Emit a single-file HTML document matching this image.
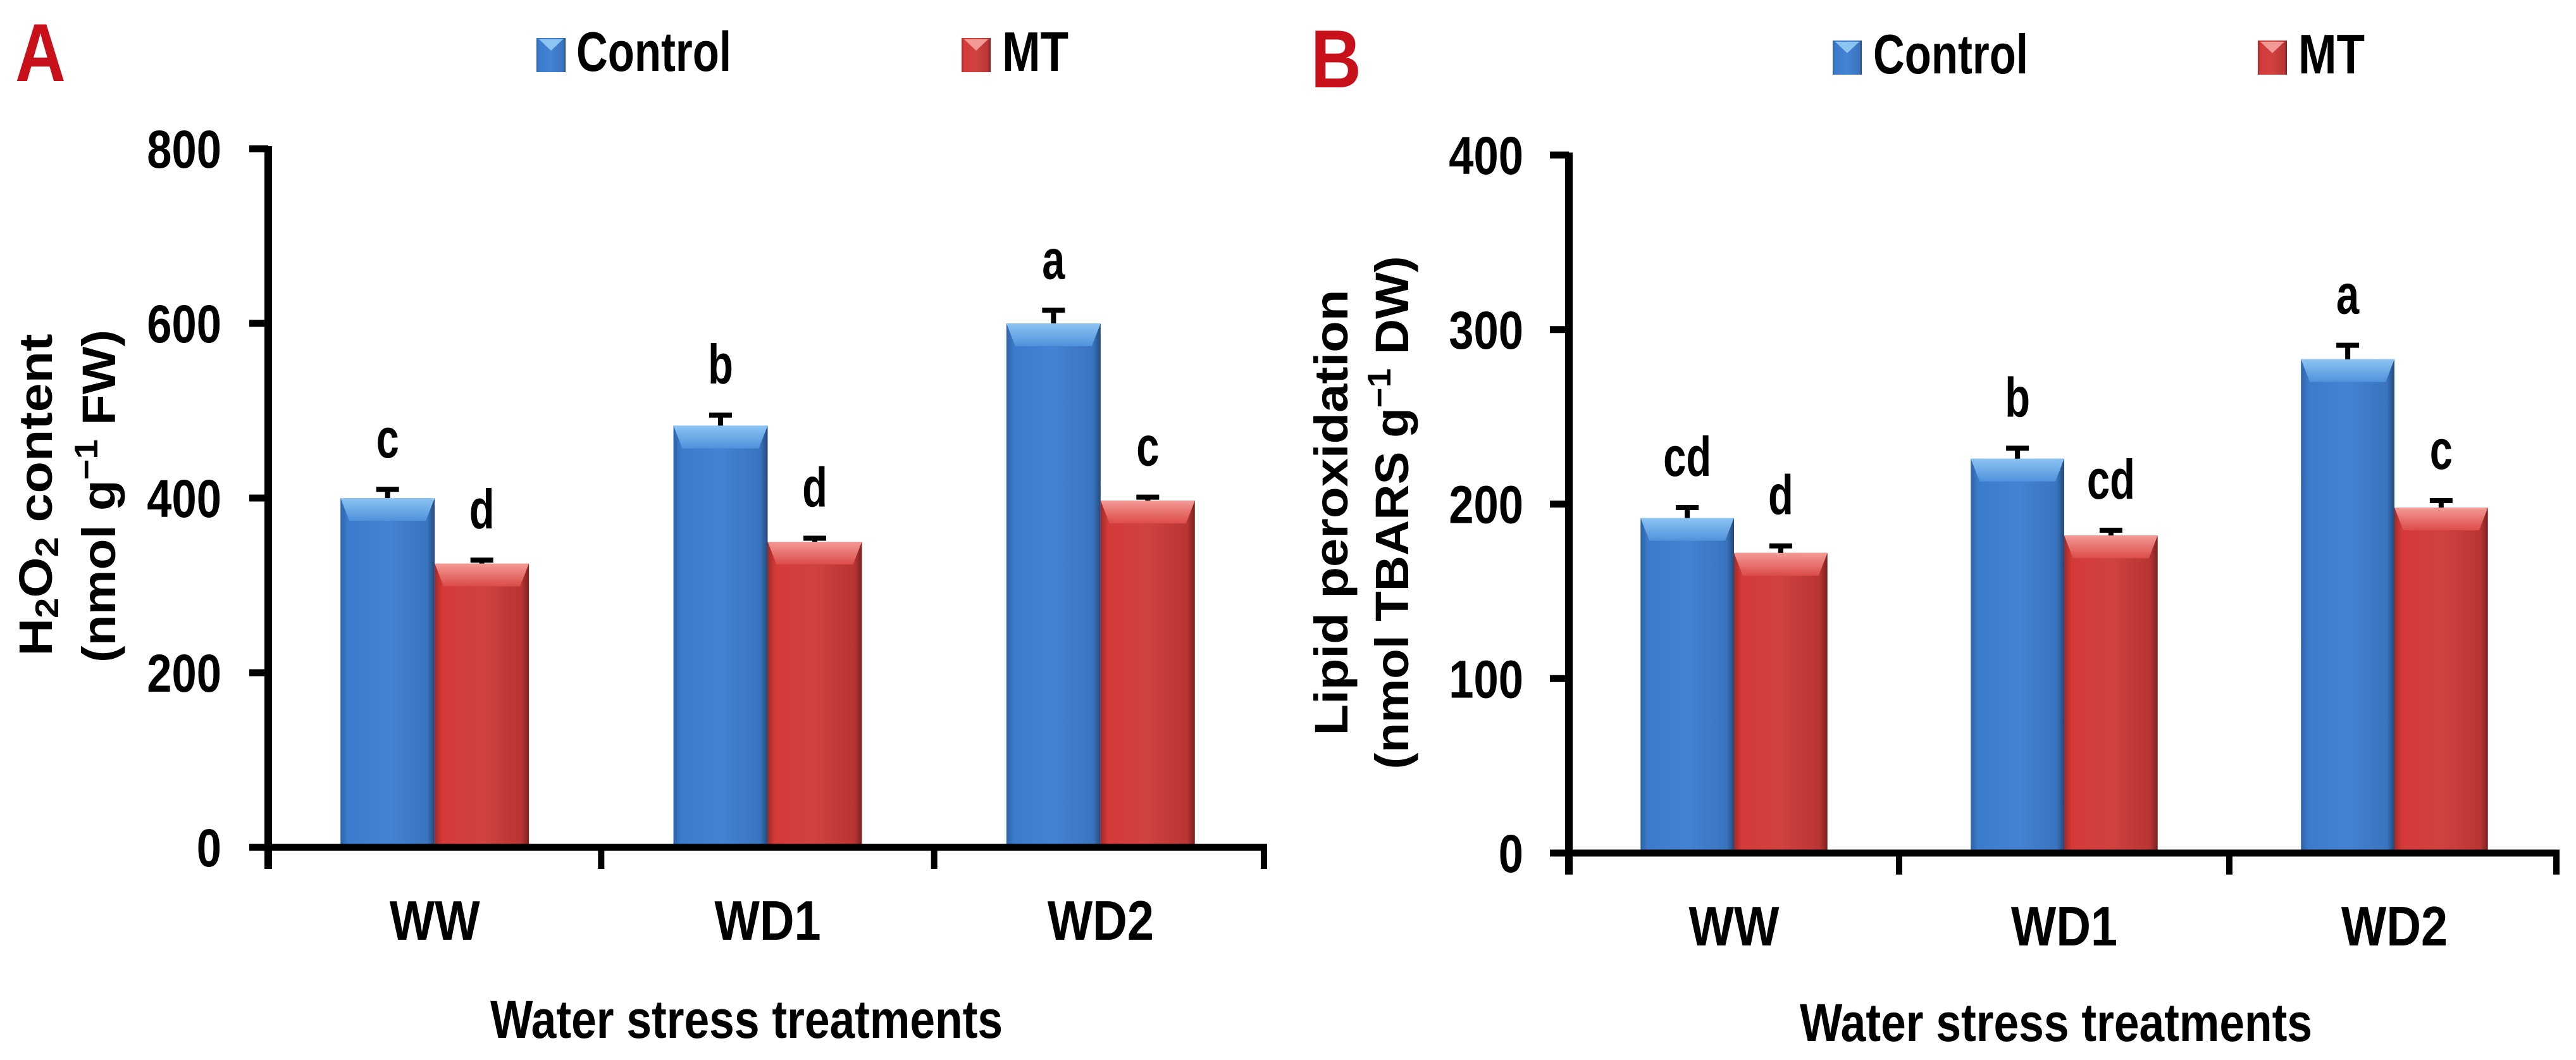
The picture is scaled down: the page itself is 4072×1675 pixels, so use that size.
<!DOCTYPE html>
<html><head><meta charset="utf-8">
<style>
html,body{margin:0;padding:0;background:#fff;}
svg{display:block;}
.tick{font-family:"Liberation Sans Narrow","Liberation Sans",sans-serif;font-weight:bold;font-size:84px;fill:#000;}
.cat{font-family:"Liberation Sans Narrow","Liberation Sans",sans-serif;font-weight:bold;font-size:88px;fill:#000;}
.xt{font-family:"Liberation Sans Narrow","Liberation Sans",sans-serif;font-weight:bold;font-size:84px;fill:#000;}
.ytitle{font-family:"Liberation Sans",sans-serif;font-weight:bold;font-size:74px;fill:#000;}
.lbl{font-family:"Liberation Sans Narrow","Liberation Sans",sans-serif;font-weight:bold;font-size:88px;fill:#000;}
.panel{font-family:"Liberation Sans",sans-serif;font-weight:bold;font-size:130px;fill:#c8101a;}
</style></head>
<body>
<svg id="fig" width="4072" height="1675" viewBox="0 0 4072 1675" xmlns="http://www.w3.org/2000/svg">
<defs>
<linearGradient id="gBlue" x1="0" x2="1" y1="0" y2="0">
<stop offset="0" stop-color="#2f63a8"/><stop offset="0.08" stop-color="#3c7bcb"/><stop offset="0.5" stop-color="#4283d3"/><stop offset="0.92" stop-color="#3a74bf"/><stop offset="1" stop-color="#24497a"/>
</linearGradient>
<linearGradient id="gRed" x1="0" x2="1" y1="0" y2="0">
<stop offset="0" stop-color="#9e2a28"/><stop offset="0.08" stop-color="#d43a38"/><stop offset="0.5" stop-color="#d04240"/><stop offset="0.92" stop-color="#b83533"/><stop offset="1" stop-color="#7a2220"/>
</linearGradient>
<linearGradient id="gBlueTop" x1="0" x2="0" y1="0" y2="1"><stop offset="0" stop-color="#8cc4f2"/><stop offset="1" stop-color="#4f92dc"/></linearGradient>
<linearGradient id="gRedTop" x1="0" x2="0" y1="0" y2="1"><stop offset="0" stop-color="#f39a96"/><stop offset="1" stop-color="#dc4c48"/></linearGradient>
</defs>
<g id="root"></g>
</svg>
<script>
const categories = ["WW", "WD1", "WD2"];
const seriesNames = ["Control", "MT"];
const h2o2Control = [400, 483, 600];
const h2o2MT = [325, 350, 397];
const h2o2ControlErr = [10, 12, 15];
const h2o2MTErr = [4, 4, 4];
const h2o2ControlLetters = ["c", "b", "a"];
const h2o2MTLetters = ["d", "d", "c"];
const h2o2Ticks = [0, 200, 400, 600, 800];
const lipidControl = [192, 226, 283];
const lipidMT = [172, 182, 198];
const lipidControlErr = [6, 6, 8];
const lipidMTErr = [4, 3, 4];
const lipidControlLetters = ["cd", "b", "a"];
const lipidMTLetters = ["d", "cd", "c"];
const lipidTicks = [0, 100, 200, 300, 400];

const NS = "http://www.w3.org/2000/svg";
const root = document.getElementById("root");
function mk(tag, attrs, parent, text) {
  const e = document.createElementNS(NS, tag);
  for (const k in attrs) e.setAttribute(k, attrs[k]);
  if (text !== undefined) e.textContent = text;
  (parent || root).appendChild(e);
  return e;
}

function drawPanel(cfg) {
  const g = mk("g", {});
  
  
  const yMax = cfg.ticks[cfg.ticks.length - 1];
  const y = v => cfg.y0 - (v / yMax) * (cfg.y0 - cfg.yTop);
  const gw = (cfg.xEnd - cfg.x0) / categories.length;
  const bw = gw * 0.283;
  const series = [cfg.control, cfg.mt];
  const errs = [cfg.controlErr, cfg.mtErr];
  const letters = [cfg.controlLetters, cfg.mtLetters];
  categories.forEach((c, i) => {
    const cx = cfg.x0 + gw * (i + 0.5);
    series.forEach((s, j) => {
      const bx = cx - bw + j * bw;
      const top = y(s[i]);
      const h = cfg.y0 - top;
      const bar = mk("rect", {x: bx, y: top, width: bw, height: h, fill: j === 0 ? "url(#gBlue)" : "url(#gRed)"}, g);
      
      
      const bev = Math.min(36, h);
      const tp = mk("polygon", {points: `${bx},${top} ${bx+bw},${top} ${bx+bw-14},${top+bev} ${bx+14},${top+bev}`, fill: j === 0 ? "url(#gBlueTop)" : "url(#gRedTop)"}, g);
      
      
      const bcx = bx + bw / 2;
      const et = y(s[i] + errs[j][i]);
      const eb = mk("path", {d: `M${bcx},${top} L${bcx},${et} M${bcx-18},${et} L${bcx+18},${et}`, stroke: "#000", "stroke-width": 8, fill: "none"}, g);
      
      
      const lt = mk("text", {x: bcx, y: et - 50, "text-anchor": "middle", class: "lbl", "data-cond": "0.74"}, g, letters[j][i]);
      
      
    });
    const cl = mk("text", {x: cx, y: cfg.y0 + 146, "text-anchor": "middle", class: "cat", "data-cond": "0.86"}, g, c);
    
    
  });
  const ya = mk("line", {x1: cfg.x0, y1: cfg.yTop - 4, x2: cfg.x0, y2: cfg.y0 + 34, stroke: "#000", "stroke-width": 12}, g);
  
  
  const xa = mk("line", {x1: cfg.x0 - 30, y1: cfg.y0, x2: cfg.xEnd, y2: cfg.y0, stroke: "#000", "stroke-width": 11}, g);
  
  
  for (let k = 1; k <= categories.length; k++) {
    const tx = cfg.x0 + gw * k - (k === categories.length ? 5 : 0);
    const t = mk("line", {x1: tx, y1: cfg.y0, x2: tx, y2: cfg.y0 + 34, stroke: "#000", "stroke-width": 10}, g);
    
    
  }
  cfg.ticks.forEach(v => {
    const t = mk("line", {x1: cfg.x0 - 30, y1: y(v), x2: cfg.x0, y2: y(v), stroke: "#000", "stroke-width": 11}, g);
    
    
    const tl = mk("text", {x: cfg.tickRight, y: y(v) + 30, "text-anchor": "end", class: "tick", "data-cond": "0.84"}, g, String(v));
    
    
  });
}

drawPanel({name: "panel-a-h2o2", x0: 424, xEnd: 2003, yTop: 235, y0: 1339, ticks: h2o2Ticks, tickRight: 350,
  control: h2o2Control, mt: h2o2MT, controlErr: h2o2ControlErr, mtErr: h2o2MTErr,
  controlLetters: h2o2ControlLetters, mtLetters: h2o2MTLetters});
drawPanel({name: "panel-b-lipid", x0: 2480, xEnd: 4046, yTop: 245, y0: 1348, ticks: lipidTicks, tickRight: 2408,
  control: lipidControl, mt: lipidMT, controlErr: lipidControlErr, mtErr: lipidMTErr,
  controlLetters: lipidControlLetters, mtLetters: lipidMTLetters});
</script>
<script>
(function(){
const r = document.getElementById("root");
const NS = "http://www.w3.org/2000/svg";
const html = `
<text class="panel" x="24" y="128" data-cond="0.85">A</text>
<text class="panel" x="2072" y="138" data-cond="0.85">B</text>
<g>
 <rect x="848" y="60" width="46" height="54" fill="url(#gBlue)"/>
 <polygon points="852,62 890,62 871,80" fill="#8cc4f2"/>
 <text class="lbl" x="911" y="112" textLength="245" lengthAdjust="spacingAndGlyphs">Control</text>
 <rect x="1520" y="60" width="46" height="54" fill="url(#gRed)"/>
 <polygon points="1524,62 1562,62 1543,80" fill="#f39a96"/>
 <text class="lbl" x="1584" y="112" textLength="105" lengthAdjust="spacingAndGlyphs">MT</text>
</g>
<g>
 <rect x="2897" y="64" width="46" height="54" fill="url(#gBlue)"/>
 <polygon points="2901,66 2939,66 2920,84" fill="#8cc4f2"/>
 <text class="lbl" x="2961" y="116" textLength="245" lengthAdjust="spacingAndGlyphs">Control</text>
 <rect x="3569" y="64" width="46" height="54" fill="url(#gRed)"/>
 <polygon points="3573,66 3611,66 3592,84" fill="#f39a96"/>
 <text class="lbl" x="3633" y="116" textLength="105" lengthAdjust="spacingAndGlyphs">MT</text>
</g>
<text class="ytitle" transform="translate(82,782) rotate(-90)" text-anchor="middle" textLength="509" lengthAdjust="spacingAndGlyphs">H<tspan font-size="52" dy="10">2</tspan><tspan dy="-10">O</tspan><tspan font-size="52" dy="10">2</tspan><tspan dy="-10"> content</tspan></text>
<text class="ytitle" transform="translate(182,784) rotate(-90)" text-anchor="middle" textLength="526" lengthAdjust="spacingAndGlyphs">(nmol g<tspan font-size="52" dy="-28">−1</tspan><tspan dy="28"> FW)</tspan></text>
<text class="ytitle" transform="translate(2130,810) rotate(-90)" text-anchor="middle" textLength="705" lengthAdjust="spacingAndGlyphs">Lipid peroxidation</text>
<text class="ytitle" transform="translate(2226,810) rotate(-90)" text-anchor="middle" textLength="811" lengthAdjust="spacingAndGlyphs">(nmol TBARS g<tspan font-size="52" dy="-28">−1</tspan><tspan dy="28"> DW)</tspan></text>
<text class="xt" x="1180" y="1640" text-anchor="middle" textLength="810" lengthAdjust="spacingAndGlyphs">Water stress treatments</text>
<text class="xt" x="3250" y="1645" text-anchor="middle" textLength="810" lengthAdjust="spacingAndGlyphs">Water stress treatments</text>`;
const tmp = document.createElementNS(NS, "g");
tmp.innerHTML = html;
while (tmp.firstChild) r.appendChild(tmp.firstChild);
document.querySelectorAll("text[data-cond]").forEach(t => {
  const f = parseFloat(t.getAttribute("data-cond"));
  const w = t.getComputedTextLength();
  t.setAttribute("textLength", (w * f).toFixed(1));
  t.setAttribute("lengthAdjust", "spacingAndGlyphs");
});
})();
</script>
</body></html>
